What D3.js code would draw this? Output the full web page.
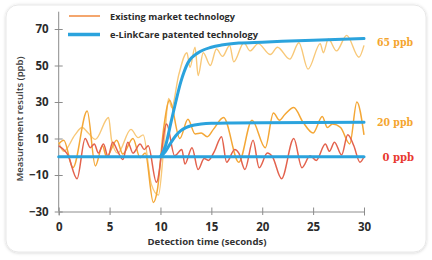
<!DOCTYPE html>
<html><head><meta charset="utf-8">
<script src="https://cdn.jsdelivr.net/npm/d3@7"></script>
<style>html,body{margin:0;padding:0;background:#fff}svg{display:block}</style>
</head><body>
<svg id="c" width="432" height="260"></svg>
<script>
// ---- data ----
const xTicks = [0, 5, 10, 15, 20, 25, 30];
const yTicks = [-30, -10, 10, 30, 50, 70];
const legendLabels = ["Existing market technology", "e-LinkCare patented technology"];
const endLabels = ["65 ppb", "20 ppb", "0 ppb"];
const endValues = [65, 20, 0];

// existing technology (noisy) – [time, value]
const existing0ppb = [[0,6],[0.9,1],[1.8,-12],[2.6,10],[3.1,5],[3.5,7],[3.9,2],[4.4,7],[4.85,0],[5.3,8],[5.8,3],[6.3,-1.5],[6.8,8],[7.3,2],[8.0,7],[8.4,4],[8.8,6],[9.6,-14],[10.6,18],[11.4,0.5],[12.1,4],[12.4,-4],[13.1,5],[13.7,-7],[14.3,-1],[14.7,-2],[15.3,3],[16.0,11],[16.5,-3],[17.3,4],[17.7,2],[18.3,-7],[19.1,9],[19.7,-6],[20.5,2],[21.0,0],[21.9,-12],[23.1,10],[23.9,-6],[24.7,0.5],[25.3,-2],[26.2,7],[26.6,3],[27.1,8],[27.8,1],[28.4,12],[29.0,6],[29.6,-3],[30,0]];
const existing20ppb = [[0,7],[0.5,9],[1.4,-6],[2.8,25],[3.6,-5],[4.3,6],[4.7,0],[5.7,9],[6.3,1.5],[7.3,10],[8.0,-0.5],[8.5,2],[9.3,-25],[9.7,-18],[10.3,15],[10.9,31],[11.9,10],[12.7,20.5],[13.4,12.5],[14.0,13],[14.6,11],[15.2,15],[16.2,21.5],[17.7,-3],[19.0,20],[20.3,5],[21.1,24],[21.7,20],[22.2,23],[23.1,27],[24.0,19],[25.0,13],[25.9,22],[26.4,16],[26.9,18],[27.7,16],[28.6,7],[29.3,30],[30,12]];
const existing65ppb = [[0,8],[0.5,3],[1.6,12],[2.3,16],[2.9,13],[3.6,9.5],[4.9,21.5],[5.2,9],[5.8,2],[7.1,15],[7.8,10.5],[8.3,12],[9.1,-15],[9.8,-21],[10.4,10],[10.8,32],[11.1,27],[11.8,45],[12.6,57],[12.9,49],[13.4,60],[13.7,44.5],[14.2,57],[14.9,50],[15.5,59],[16.1,55],[16.8,61],[17.2,52],[18.2,62.5],[18.8,58],[19.6,62],[20.8,56],[21.5,60],[22.7,53.5],[23.6,62.5],[24.5,48],[25.7,62],[26.0,57],[26.5,64.5],[27.3,58],[28.3,66.5],[29.5,54.5],[30,61]];

// e-LinkCare (smooth)
const patented0ppb = [[0,0],[30,0]];
const patented20ppb = [[10,0],[10.5,3],[11,7.5],[11.5,11.5],[12,14.3],[12.5,16],[13,17],[14,17.9],[15,18.3],[17,18.5],[20,18.6],[30,18.9]];
const patented65ppb = [[10,0],[10.5,6],[11,18],[11.5,30],[12,41],[12.7,51.5],[13.7,57],[15,60],[16,61.2],[17.7,62.3],[20,62.8],[25,63.9],[30,64.8]];

// ---- drawing ----
const svg = d3.select("#c");
const defs = svg.append("defs");
const f = defs.append("filter").attr("id","sh").attr("x","-5%").attr("y","-5%").attr("width","110%").attr("height","110%");
f.append("feDropShadow").attr("dx",0).attr("dy",0.5).attr("stdDeviation",1.5).attr("flood-color","#000").attr("flood-opacity",0.18);

svg.append("rect").attr("x",6).attr("y",5).attr("width",420).attr("height",247).attr("rx",12)
  .attr("fill","#fff").attr("stroke","#e8e8e8").attr("filter","url(#sh)");

const x = d3.scaleLinear().domain([0,30]).range([58.7,364]);
const y = d3.scaleLinear().domain([-30,70]).range([211.5,29]);

const axisColor = "#8c8c8c";
const font = "'Open Sans', sans-serif";

// y axis
const gy = svg.append("g").attr("transform",`translate(${x(0)},0)`)
  .call(d3.axisLeft(y).tickValues(yTicks).tickSize(4).tickPadding(6));
gy.select(".domain").remove();
gy.selectAll(".tick line").attr("stroke",axisColor).attr("x2",4).attr("x1",-4);
gy.selectAll(".tick text").attr("font-family",font).attr("font-weight",700).attr("font-size",11.5).attr("fill","#2b2b2b");
svg.append("line").attr("x1",x(0)).attr("x2",x(0)).attr("y1",11.7).attr("y2",y(-30)).attr("stroke",axisColor);

// x axis
const gx = svg.append("g").attr("transform",`translate(0,${y(-30)})`)
  .call(d3.axisBottom(x).tickValues(xTicks).tickSize(4).tickPadding(7));
gx.select(".domain").attr("stroke",axisColor);
gx.selectAll(".tick line").attr("stroke",axisColor).attr("y1",-4).attr("y2",3.5);
gx.selectAll(".tick text").attr("font-family",font).attr("font-weight",700).attr("font-size",11.5).attr("fill","#2b2b2b");

// axis titles
svg.append("text").attr("x",207).attr("y",245).attr("text-anchor","middle")
  .attr("font-family",font).attr("font-weight",700).attr("font-size",9.5).attr("fill","#333")
  .attr("textLength",119).attr("lengthAdjust","spacingAndGlyphs").text("Detection time (seconds)");
svg.append("text").attr("transform","translate(23,119) rotate(-90)").attr("text-anchor","middle")
  .attr("font-family",font).attr("font-weight",600).attr("font-size",9.5).attr("fill","#3a3a3a")
  .attr("textLength",125).attr("lengthAdjust","spacingAndGlyphs").text("Measurement results (ppb)");

const line = d3.line().x(d=>x(d[0])).y(d=>y(d[1])).curve(d3.curveMonotoneX);

const noisy = [
  {data: existing65ppb, color:"#f8c878", w:1.4},
  {data: existing20ppb, color:"#f4a736", w:1.5},
  {data: existing0ppb,  color:"#e3624d", w:1.5}
];
noisy.forEach(s => svg.append("path").datum(s.data).attr("d",line)
  .attr("fill","none").attr("stroke",s.color).attr("stroke-width",s.w).attr("stroke-linejoin","round"));

[patented0ppb, patented20ppb, patented65ppb].forEach(s => svg.append("path").datum(s).attr("d",line)
  .attr("fill","none").attr("stroke","#2ba3dd").attr("stroke-width",3).attr("stroke-linecap","round"));

// legend
svg.append("line").attr("x1",69).attr("x2",100).attr("y1",16).attr("y2",16).attr("stroke","#f0883e").attr("stroke-width",1.5);
svg.append("line").attr("x1",68).attr("x2",100).attr("y1",34.5).attr("y2",34.5).attr("stroke","#2ba3dd").attr("stroke-width",3.5);
const legY = [19.5, 37.5], legW = [125, 148];
legendLabels.forEach((t,i) => svg.append("text").attr("x",110).attr("y",legY[i])
  .attr("font-family",font).attr("font-weight",700).attr("font-size",9.5).attr("fill","#2b2b2b")
  .attr("textLength",legW[i]).attr("lengthAdjust","spacingAndGlyphs").text(t));

// end labels
const endColors = ["#f4a52e","#f4a52e","#e8392f"];
const endX = [377, 377, 382.5], endW = [36, 36, 31.5];
endLabels.forEach((t,i) => svg.append("text").attr("x",endX[i]).attr("y",y(endValues[i] === 65 ? 63 : endValues[i] === 20 ? 19 : 0) + 4)
  .attr("font-family","'DejaVu Serif', 'Liberation Serif', serif").attr("font-weight",700).attr("font-size",11)
  .attr("fill",endColors[i]).attr("textLength",endW[i]).attr("lengthAdjust","spacingAndGlyphs").text(t));
</script>
</body></html>
